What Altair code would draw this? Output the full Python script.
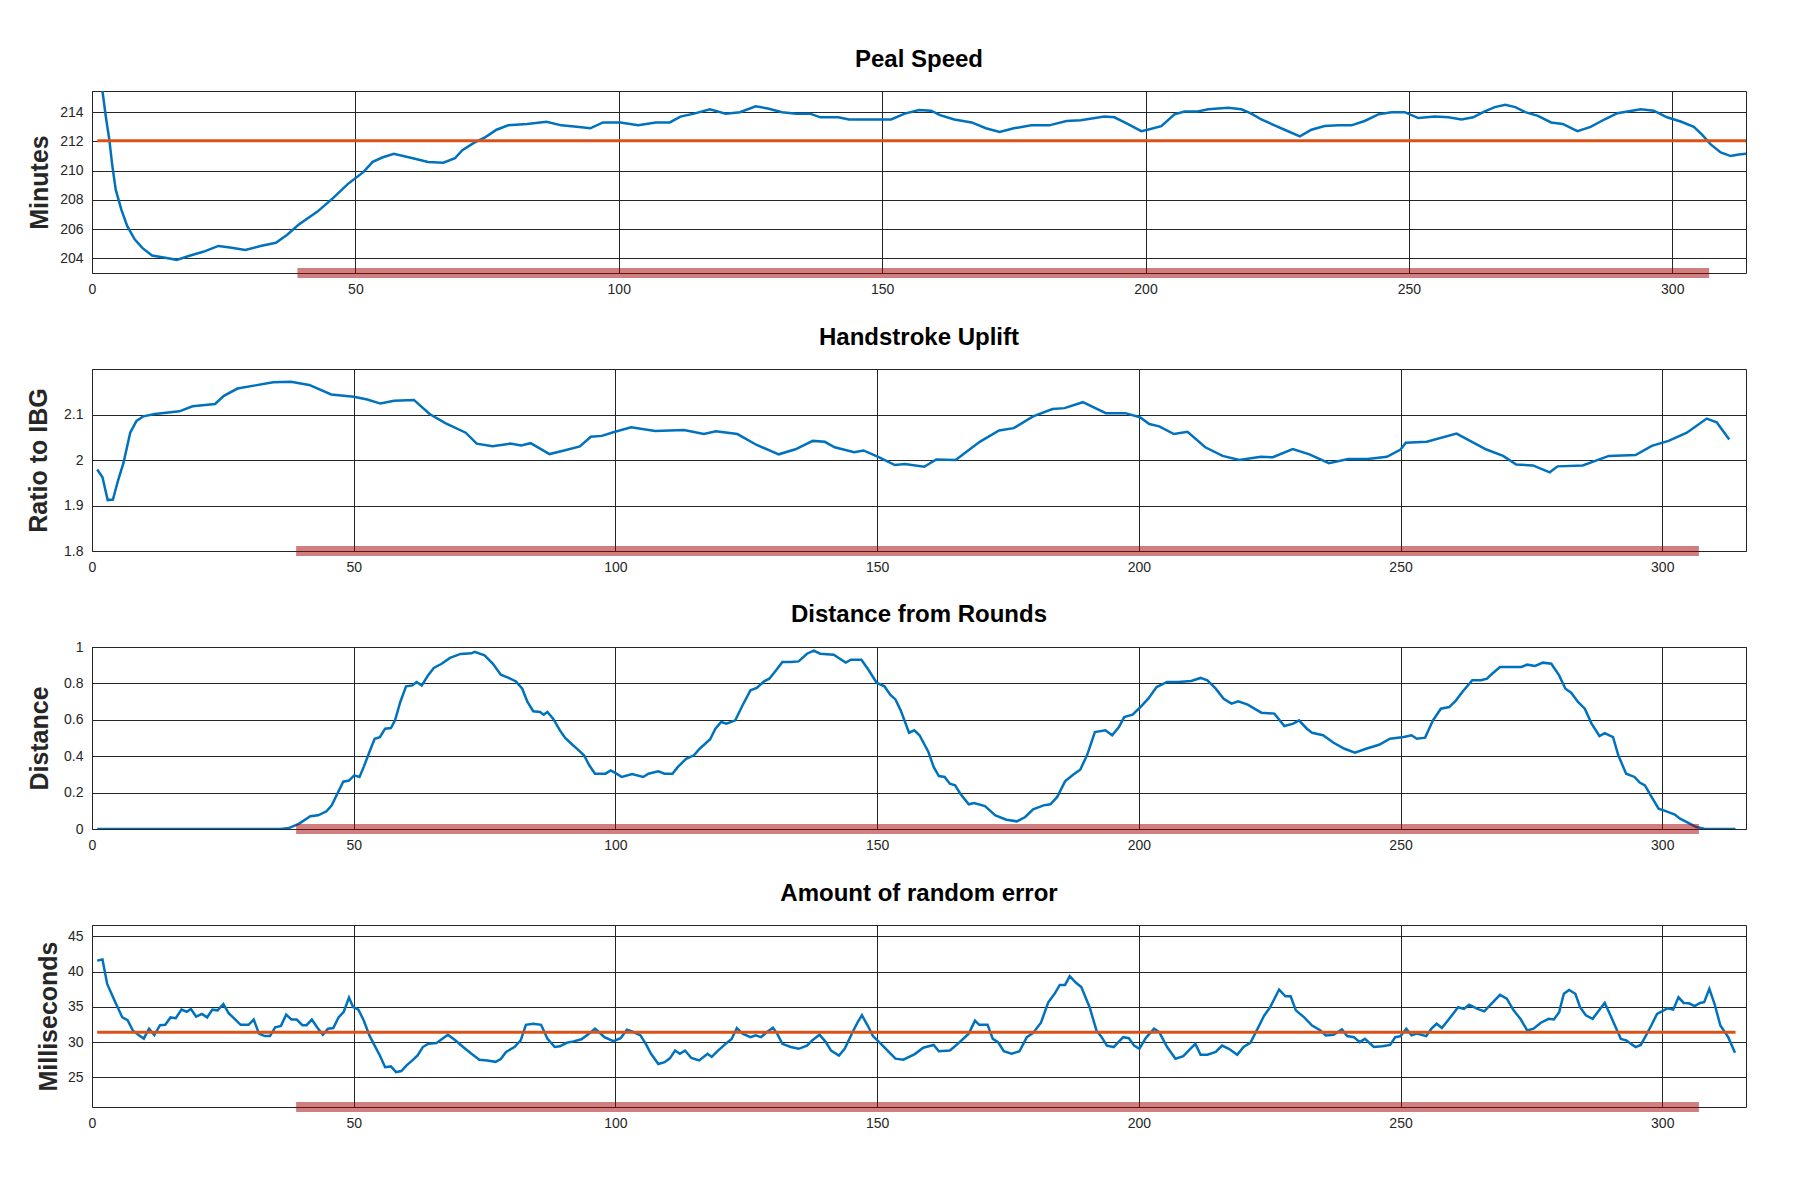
import altair as alt
import pandas as pd

# ---------------- data ----------------
highlight_start = 39
highlight_end = 307

peal_speed = [
    (1, 218), (2, 215.4), (2.7, 213.5), (3.3, 212.1), (3.8, 210.5), (4.5, 208.7), (5.6, 207.3),
    (6.7, 206.2), (8.1, 205.3), (9.6, 204.7), (11.4, 204.2), (13.9, 204.05), (16.1, 203.9),
    (18.2, 204.15), (21.1, 204.45), (24, 204.85), (26.2, 204.75), (29.1, 204.57), (32, 204.85),
    (34.9, 205.07), (37, 205.6), (39.2, 206.3), (42.8, 207.2), (45.7, 208.1), (48.6, 209.1),
    (51.5, 209.9), (53.3, 210.6), (55.1, 210.9), (57.3, 211.15), (60.9, 210.85), (63.8, 210.6),
    (66.7, 210.55), (68.9, 210.85), (70.3, 211.4), (72.5, 211.9), (74.7, 212.3), (76.8, 212.8),
    (79, 213.1), (82.6, 213.2), (86.3, 213.35), (89.1, 213.1), (92, 213.0), (94.6, 212.9),
    (97, 213.3), (100.3, 213.3), (103.7, 213.1), (107, 213.3), (109.7, 213.3), (111.7, 213.7),
    (114.3, 213.9), (117.3, 214.2), (120.3, 213.9), (123, 214.0), (126, 214.4), (128.3, 214.25),
    (131, 214.0), (133.7, 213.9), (136.3, 213.9), (138.3, 213.65), (141.7, 213.65), (143.7, 213.5),
    (147, 213.5), (150, 213.5), (151.7, 213.5), (154.3, 213.9), (157, 214.15), (159.3, 214.1),
    (161, 213.8), (163.7, 213.5), (167, 213.3), (169.7, 212.9), (172.3, 212.65), (175, 212.9),
    (178.3, 213.1), (181.7, 213.1), (185, 213.4), (187.7, 213.45), (192.2, 213.7), (194.1, 213.65),
    (196.6, 213.2), (199.2, 212.7), (200.4, 212.8), (203, 213.05), (205.5, 213.85), (207.4, 214.05),
    (209.9, 214.05), (211.9, 214.2), (215.7, 214.3), (218.2, 214.2), (220.1, 213.9), (222, 213.5),
    (224.5, 213.1), (226.4, 212.8), (229.3, 212.35), (231.5, 212.8), (234, 213.05), (236.6, 213.1),
    (239.1, 213.1), (241.6, 213.4), (244.2, 213.85), (246.7, 214.0), (249.2, 214.0), (251.8, 213.6),
    (254.9, 213.7), (257.5, 213.65), (260, 213.5), (262.2, 213.65), (264.4, 214.05), (266.3, 214.35),
    (268.3, 214.5), (270.2, 214.35), (272.1, 214.0), (274.5, 213.75), (277, 213.3), (279.2, 213.2),
    (282, 212.7), (284.5, 213.0), (287.1, 213.5), (289.6, 213.93), (294, 214.2), (296.5, 214.1),
    (299, 213.65), (301.6, 213.36), (304.1, 213.0), (305.7, 212.45), (307.3, 211.8), (309.2, 211.25),
    (311.1, 211.0), (312.6, 211.1), (314, 211.15),
]
peal_speed_mean = 212.05

handstroke = [
    (1, 1.979), (2, 1.962), (3, 1.912), (4, 1.913), (5, 1.956), (6, 1.993), (7.3, 2.06), (8.5, 2.086),
    (9.8, 2.096), (12, 2.101), (16.7, 2.107), (19.2, 2.118), (23.5, 2.123), (25.2, 2.141), (27.8, 2.157),
    (31.2, 2.164), (34.6, 2.171), (38, 2.172), (41.5, 2.165), (45.7, 2.144), (50, 2.139), (52.6, 2.133),
    (55.1, 2.124), (57.7, 2.130), (61.5, 2.132), (64.5, 2.101), (67.5, 2.081), (71.4, 2.06), (73.5, 2.036),
    (76.5, 2.03), (79.9, 2.036), (82, 2.032), (83.8, 2.037), (87.4, 2.013), (90.2, 2.021), (93.2, 2.030),
    (95.3, 2.051), (97.4, 2.053), (99.6, 2.061), (103, 2.072), (107.6, 2.064), (113.1, 2.066),
    (116.9, 2.057), (119.2, 2.063), (123.3, 2.057), (127, 2.033), (131.2, 2.0125), (134.4, 2.0235),
    (137.7, 2.042), (140, 2.040), (141.9, 2.028), (145.6, 2.017), (147.4, 2.021), (150.2, 2.007),
    (153.4, 1.989), (155.3, 1.991), (159, 1.985), (161.3, 2.001), (165, 2.0), (169.6, 2.040),
    (173.3, 2.065), (176.1, 2.070), (179.8, 2.096), (183.5, 2.112), (185.8, 2.114), (189.3, 2.127),
    (193.7, 2.103), (197.4, 2.103), (200.2, 2.094), (202, 2.079), (203.9, 2.074), (206.7, 2.057),
    (209.3, 2.062), (212.7, 2.028), (216, 2.009), (219.2, 2.0), (223.3, 2.007), (225.6, 2.006),
    (229.4, 2.024), (232.6, 2.0125), (236.3, 1.993), (240, 2.002), (243.7, 2.002), (247.4, 2.007),
    (250, 2.023), (251, 2.038), (255, 2.04), (260.7, 2.058), (266.4, 2.023), (269.6, 2.009),
    (272.1, 1.99), (275.3, 1.988), (278.5, 1.973), (280, 1.986), (284.8, 1.988), (289.8, 2.009),
    (294.9, 2.011), (298, 2.031), (301.2, 2.042), (304.7, 2.06), (308.5, 2.091), (310.4, 2.083),
    (312.8, 2.045),
]

distance = [
    (1, 0), (36, 0), (37.6, 0.005), (39.6, 0.03), (41.7, 0.07), (43.2, 0.075), (44.8, 0.097),
    (45.8, 0.13), (46.8, 0.19), (48, 0.26), (49.1, 0.266), (50.1, 0.295), (51.1, 0.286), (51.9, 0.34),
    (53, 0.423), (54, 0.496), (55, 0.504), (56, 0.551), (57.1, 0.555), (57.9, 0.597), (58.9, 0.698),
    (60, 0.784), (61.2, 0.789), (62, 0.808), (63, 0.789), (64.3, 0.848), (65.3, 0.885), (66.8, 0.908),
    (68.4, 0.94), (70.4, 0.962), (72.5, 0.965), (73.1, 0.973), (75, 0.954), (76.6, 0.908), (78.1, 0.848),
    (79.6, 0.83), (81, 0.811), (82.2, 0.771), (83.2, 0.698), (84.3, 0.647), (85.6, 0.643), (86.3, 0.628),
    (87, 0.643), (88.1, 0.606), (89.4, 0.542), (90.4, 0.5), (91.9, 0.46), (93, 0.432), (94, 0.405),
    (95, 0.35), (96.1, 0.304), (98.1, 0.304), (99.1, 0.322), (100.2, 0.304), (101.2, 0.286),
    (103.2, 0.302), (105.3, 0.286), (106.3, 0.304), (108.2, 0.317), (109.4, 0.304), (110.9, 0.304),
    (111.9, 0.34), (113.5, 0.386), (115, 0.405), (116.1, 0.441), (118.1, 0.493), (119.1, 0.551),
    (120.2, 0.588), (121.2, 0.579), (122.9, 0.597), (124.3, 0.68), (125.8, 0.762), (127, 0.775),
    (128.4, 0.811), (129.4, 0.826), (130.7, 0.872), (131.9, 0.918), (133.5, 0.918), (135, 0.921),
    (136.6, 0.963), (137.9, 0.98), (139.1, 0.963), (141.7, 0.958), (144, 0.914), (145, 0.93),
    (147, 0.93), (148.4, 0.872), (149.9, 0.804), (151.4, 0.784), (152.5, 0.738), (153.5, 0.712),
    (154.5, 0.652), (156.1, 0.529), (157.1, 0.542), (158.1, 0.515), (159.8, 0.423), (160.8, 0.341),
    (161.8, 0.291), (162.9, 0.286), (163.9, 0.249), (164.9, 0.24), (165.9, 0.194), (167.5, 0.136),
    (168.5, 0.143), (170.6, 0.126), (172.6, 0.075), (174.7, 0.051), (176.7, 0.042), (178.3, 0.066),
    (179.8, 0.108), (181.8, 0.13), (183.1, 0.136), (184.4, 0.176), (185.9, 0.262), (187.5, 0.299),
    (188.8, 0.326), (190.1, 0.405), (191.6, 0.533), (193.6, 0.542), (194.9, 0.515), (196.2, 0.56),
    (197.2, 0.615), (198.8, 0.628), (200.3, 0.67), (201.8, 0.716), (203.4, 0.78), (205.4, 0.808),
    (207.5, 0.808), (210, 0.813), (211.8, 0.83), (213.1, 0.817), (214.7, 0.771), (216.2, 0.716),
    (217.7, 0.689), (219, 0.701), (220.8, 0.683), (223.4, 0.639), (225.9, 0.634), (227.8, 0.566),
    (229.5, 0.579), (230.6, 0.597), (232.1, 0.551), (233.1, 0.529), (235.2, 0.515), (237.2, 0.474),
    (239.3, 0.441), (241.3, 0.419), (243.4, 0.441), (245.9, 0.463), (248, 0.496), (250.6, 0.505),
    (252.1, 0.515), (253.1, 0.496), (254.7, 0.502), (256.2, 0.597), (257.7, 0.661), (259.3, 0.67),
    (260.6, 0.707), (261.8, 0.753), (263.7, 0.817), (265.4, 0.817), (266.5, 0.826), (267.5, 0.853),
    (269, 0.89), (271.1, 0.89), (273.1, 0.89), (274.2, 0.903), (275.7, 0.896), (277.2, 0.914),
    (278.8, 0.908), (280.3, 0.844), (281.5, 0.771), (282.6, 0.749), (283.9, 0.698), (285.2, 0.661),
    (286.5, 0.579), (288, 0.511), (289, 0.527), (290.6, 0.505), (291.6, 0.405), (293.1, 0.304),
    (294.7, 0.286), (295.7, 0.255), (296.7, 0.24), (297.7, 0.189), (299.3, 0.112), (300.8, 0.097),
    (302.4, 0.079), (303.4, 0.057), (304.7, 0.038), (306.5, 0.011), (308, 0.002), (310, 0), (314, 0),
]

random_error = [
    (1, 41.55), (2, 41.7), (2.9, 38.25), (4.3, 35.9), (5.8, 33.5), (6.8, 33.1), (7.8, 31.65), (8.9, 31.0),
    (9.9, 30.5), (10.9, 31.9), (11.9, 31.0), (13, 32.4), (14, 32.45), (15, 33.5), (16, 33.4), (17.1, 34.6),
    (18.1, 34.3), (18.9, 34.7), (19.9, 33.6), (21, 34.0), (22, 33.5), (23, 34.6), (24, 34.5), (25.1, 35.4),
    (26.1, 34.1), (27.1, 33.4), (28.4, 32.45), (29.9, 32.45), (30.9, 33.2), (31.9, 31.2), (33, 30.85),
    (34, 30.85), (35, 32.1), (36.1, 32.3), (37.1, 33.9), (38.1, 33.2), (39.1, 33.2), (40.2, 32.4),
    (41, 32.4), (42, 33.2), (43, 32.1), (44.1, 31.05), (45.1, 31.9), (46.1, 32.0), (47.1, 33.5),
    (48.1, 34.3), (49.1, 36.3), (49.9, 34.95), (50.9, 34.6), (51.9, 33.1), (53, 30.95), (54, 29.5),
    (55, 28.1), (56, 26.45), (57.1, 26.55), (58.1, 25.75), (59.1, 25.9), (60.1, 26.7), (61.2, 27.4),
    (62.2, 28.1), (63.2, 29.3), (64.2, 29.75), (65.8, 29.85), (66.8, 30.4), (68, 31.05), (69.4, 30.25),
    (70.9, 29.3), (72.5, 28.35), (74, 27.5), (75.5, 27.4), (77.1, 27.2), (78.1, 27.6), (79.1, 28.6),
    (80.7, 29.3), (81.9, 30.25), (82.9, 32.45), (84.3, 32.6), (85.8, 32.45), (87, 30.5), (88.4, 29.3),
    (89.4, 29.4), (90.7, 29.9), (92, 30.1), (93.5, 30.4), (95, 31.2), (96.1, 31.9), (96.9, 31.4),
    (97.9, 30.7), (99.6, 30.15), (101, 30.55), (102.2, 31.75), (103.2, 31.5), (104.8, 30.95),
    (105.8, 29.75), (106.8, 28.35), (108.2, 26.9), (109.4, 27.15), (110.4, 27.7), (111.4, 28.8),
    (112.3, 28.35), (113.3, 28.8), (114.5, 27.75), (116, 27.4), (117.6, 28.35), (118.4, 27.9),
    (119.6, 28.8), (121.2, 29.85), (122.2, 30.45), (123.2, 32.0), (124.3, 31.2), (125.8, 30.7),
    (126.8, 30.95), (127.8, 30.7), (128.9, 31.4), (130.1, 32.05), (130.9, 31.2), (131.9, 29.75),
    (133.5, 29.3), (135, 29.05), (136.6, 29.5), (137.6, 30.25), (139, 31.05), (140.2, 30.0),
    (141.2, 28.8), (142.7, 28.1), (143.8, 29.05), (145.3, 31.4), (146.3, 32.85), (147.1, 33.8),
    (148.2, 32.35), (149.2, 30.85), (150.4, 30.0), (152, 28.8), (153.5, 27.65), (155, 27.5),
    (157.2, 28.3), (158.8, 29.2), (160.8, 29.6), (161.8, 28.7), (163.9, 28.8), (165.4, 29.75),
    (167.5, 31.2), (168.7, 33.05), (169.5, 32.45), (171.1, 32.45), (172.1, 30.45), (173.1, 30.0),
    (174.2, 28.7), (175.7, 28.35), (177.2, 28.7), (178.6, 30.7), (179.8, 31.3), (181.3, 32.75),
    (182.7, 35.65), (183.9, 36.85), (184.9, 38.1), (185.9, 38.1), (186.8, 39.35), (188, 38.4),
    (189, 37.8), (190.6, 34.95), (191.9, 31.65), (192.9, 30.7), (193.9, 29.5), (195.2, 29.3),
    (197, 30.7), (198.1, 30.55), (199.1, 29.5), (200.1, 29.05), (201.3, 30.55), (202.9, 31.9),
    (203.9, 31.4), (205.4, 29.3), (207, 27.65), (208.5, 28.0), (209.5, 28.8), (210.8, 29.75),
    (211.8, 28.2), (213.1, 28.2), (214.7, 28.6), (215.9, 29.5), (217.2, 29.05), (218.8, 28.2),
    (220, 29.3), (221.3, 29.9), (222.7, 31.9), (223.9, 33.7), (225.1, 34.95), (226.8, 37.45),
    (228, 36.5), (229, 36.5), (230, 34.5), (231.6, 33.5), (233.1, 32.35), (234.7, 31.65),
    (235.7, 30.95), (237.2, 31.05), (238.8, 31.8), (239.8, 30.85), (241.1, 30.7), (242.2, 30.0),
    (243.2, 30.45), (244.9, 29.3), (246.5, 29.4), (248, 29.6), (249, 30.7), (250, 30.85),
    (251.1, 31.9), (252.1, 30.95), (253.1, 31.2), (254.9, 30.85), (255.9, 31.9), (256.9, 32.6),
    (257.9, 32.0), (259.3, 33.3), (261, 34.95), (262.1, 34.7), (263.1, 35.3), (264.7, 34.7),
    (266, 34.35), (267.2, 35.3), (269, 36.7), (270.3, 36.15), (271.6, 34.5), (272.9, 33.3),
    (274.2, 31.65), (275.4, 31.9), (276.8, 32.75), (278.3, 33.3), (279.3, 33.2), (280.3, 34.25),
    (281.2, 36.85), (282.2, 37.4), (283.4, 36.85), (284.3, 34.95), (285.4, 33.8), (286.7, 33.3),
    (288, 34.6), (289, 35.55), (290.1, 33.8), (291.1, 32.1), (292.1, 30.45), (293.1, 30.25),
    (294.9, 29.3), (295.9, 29.6), (296.9, 30.95), (297.9, 32.35), (299, 34.0), (300.3, 34.5),
    (301, 34.8), (302.1, 34.6), (303.1, 36.35), (304.1, 35.55), (305.1, 35.5), (306.2, 35.1),
    (307.2, 35.55), (308, 35.65), (309, 37.55), (310, 35.4), (311.1, 32.35), (312.6, 30.7),
    (313.9, 28.5),
]
random_error_mean = 31.4

# ---------------- styling ----------------
FONT = "Liberation Sans"
BLUE = "#0072BD"
ORANGE = "#D95319"
BAR = "#A00000"
INK = "#262626"
W, H = 1654, 182
x_ticks = [0, 50, 100, 150, 200, 250, 300]


def panel(series, title, ytitle, xmax, ydom, yticks, title_x, mean=None, mean_end=None,
          title_offset=0):
    df = pd.DataFrame(series, columns=["x", "y"])
    xs = alt.Scale(domain=[0, xmax], nice=False, zero=False)
    ys = alt.Scale(domain=ydom, nice=False, zero=False)
    xa = alt.Axis(values=x_ticks, title=None, grid=True, labelFlush=False)
    ya = alt.Axis(values=yticks, title=ytitle, grid=True, format="~g",
                  titleX=title_x, titleY=H / 2, titleAlign="center",
                  titleBaseline="middle", titleAngle=270)

    def enc(c):
        return c.encode(x=alt.X("x:Q", scale=xs, axis=xa), y=alt.Y("y:Q", scale=ys, axis=ya))

    layers = [enc(alt.Chart(df).mark_line(color=BLUE, strokeWidth=2.5, clip=True))]
    if mean is not None:
        mdf = pd.DataFrame({"x": [1], "x2": [mean_end], "y": [mean]})
        layers.append(alt.Chart(mdf).mark_rule(color=ORANGE, strokeWidth=3).encode(
            x=alt.X("x:Q", scale=xs, axis=xa), x2="x2:Q",
            y=alt.Y("y:Q", scale=ys, axis=ya)))
    bdf = pd.DataFrame({"x": [highlight_start], "x2": [highlight_end], "y": [ydom[0]]})
    layers.append(alt.Chart(bdf).mark_rule(color=BAR, opacity=0.5, strokeWidth=10).encode(
        x=alt.X("x:Q", scale=xs, axis=xa), x2="x2:Q",
        y=alt.Y("y:Q", scale=ys, axis=ya)))
    return alt.layer(*layers).properties(
        width=W, height=H,
        title=alt.TitleParams(title, font=FONT, fontSize=24, fontWeight="bold", color="black",
                              anchor="middle", baseline="alphabetic", offset=title_offset,
                              frame="group"),
    )


p1 = panel(peal_speed, "Peal Speed", "Minutes", 314, [203.0, 215.45],
           [204, 206, 208, 210, 212, 214], -53, peal_speed_mean, 314)
p2 = panel(handstroke, "Handstroke Uplift", "Ratio to IBG", 316, [1.8, 2.2],
           [1.8, 1.9, 2.0, 2.1], -54)
p3 = panel(distance, "Distance from Rounds", "Distance", 316, [0, 1],
           [0, 0.2, 0.4, 0.6, 0.8, 1.0], -53, title_offset=-6)
p4 = panel(random_error, "Amount of random error", "Milliseconds", 316, [20.8, 46.6],
           [25, 30, 35, 40, 45], -44, random_error_mean, 314)

chart = alt.vconcat(p1, p2, p3, p4, spacing=96, bounds="flush").properties(
    padding={"left": 17, "top": 39, "right": 5, "bottom": 5},
    background="white",
).configure_view(
    stroke=INK, strokeWidth=1
).configure_axis(
    domain=False, ticks=False, labelFont=FONT, labelFontSize=14, labelColor=INK,
    labelPadding=9, gridColor=INK, gridOpacity=1, gridWidth=1,
    titleFont=FONT, titleFontSize=25, titleFontWeight="bold", titleColor=INK,
)

chart.save("out.html", embed_options={"renderer": "svg", "actions": False})
